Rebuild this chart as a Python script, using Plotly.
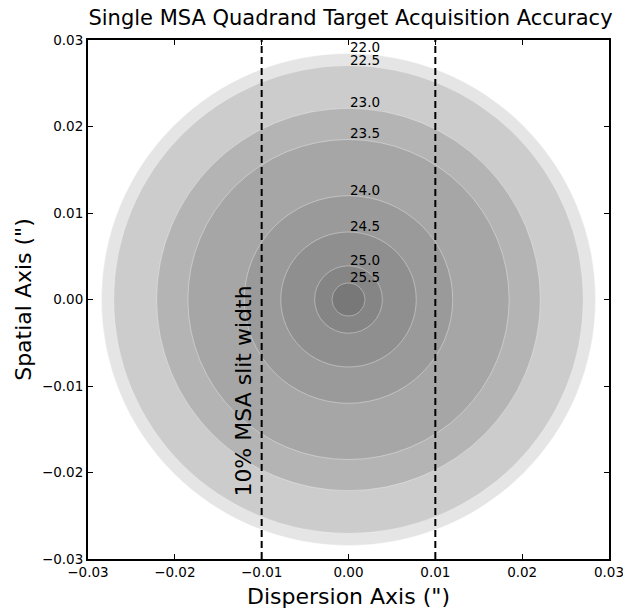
import plotly.graph_objects as go

# Data
magnitudes = ["22.0", "22.5", "23.0", "23.5", "24.0", "24.5", "25.0", "25.5"]
radii = [0.02845, 0.02705, 0.0221, 0.0185, 0.0120, 0.0078, 0.0039, 0.0019]
fill_colors = ["#e5e5e5", "#cccccc", "#b4b4b4", "#a6a6a6",
               "#9a9a9a", "#8f8f8f", "#858585", "#787878"]
slit_edges = [-0.01, 0.01]
tick_vals = [-0.03, -0.02, -0.01, 0.0, 0.01, 0.02, 0.03]
tick_text = ["\u22120.03", "\u22120.02", "\u22120.01", "0.00", "0.01", "0.02", "0.03"]

FONT = "DejaVu Sans"
# page body has an 8px default margin; compensate so the figure fills the window
W, H, OFF = 631 - 8, 609 - 8, 8

fig = go.Figure()

shapes = []
annotations = []
for mag, r, col in zip(magnitudes, radii, fill_colors):
    shapes.append(dict(type="circle", xref="x", yref="y",
                       x0=-r, y0=-r, x1=r, y1=r,
                       fillcolor=col,
                       line=dict(color="rgba(255,255,255,0.35)", width=1),
                       layer="below"))
    annotations.append(dict(x=0, y=r, xref="x", yref="y", text=mag,
                            showarrow=False, xanchor="left", yanchor="bottom",
                            xshift=-1, yshift=-4,
                            font=dict(family=FONT, size=13.5, color="black")))

for xe in slit_edges:
    fig.add_trace(go.Scatter(x=[xe, xe], y=[-0.03, 0.03], mode="lines",
                             line=dict(color="black", width=2, dash="7px,4px"),
                             showlegend=False, hoverinfo="skip"))

annotations.append(dict(x=-0.0121, y=-0.0106, xref="x", yref="y",
                        text="10% MSA slit width", showarrow=False,
                        textangle=-90, xanchor="center", yanchor="middle",
                        font=dict(family=FONT, size=22, color="black")))

axis_common = dict(range=[-0.03, 0.03], tickvals=tick_vals, ticktext=tick_text,
                   ticks="inside", ticklen=5, tickwidth=1, tickcolor="black",
                   showline=True, linecolor="black", linewidth=2, mirror="ticks",
                   showgrid=False, zeroline=False, automargin=False,
                   tickfont=dict(family=FONT, size=13.5, color="black"))

fig.update_layout(
    width=W, height=H,
    margin=dict(l=88 - OFF, r=22, t=40 - OFF, b=50),
    paper_bgcolor="white", plot_bgcolor="white",
    shapes=shapes, annotations=annotations,
    title=dict(text="Single MSA Quadrand Target Acquisition Accuracy",
               x=(350.5 - OFF) / W, xanchor="center", xref="container",
               y=1 - (18 - OFF) / H, yanchor="middle", yref="container",
               font=dict(family=FONT, size=21, color="black")),
    xaxis=dict(axis_common, title=dict(text="Dispersion Axis (\")", standoff=15,
                                       font=dict(family=FONT, size=22, color="black"))),
    yaxis=dict(axis_common, title=dict(text="Spatial Axis (\")", standoff=4,
                                       font=dict(family=FONT, size=22, color="black"))),
    showlegend=False,
)

fig.write_html("out.html")
